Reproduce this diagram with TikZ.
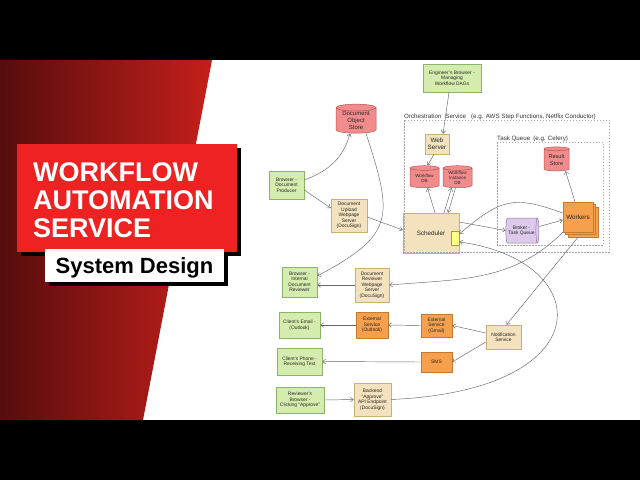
\documentclass[tikz,border=0pt]{standalone}
\usepackage{fontspec}
\setmainfont{Liberation Sans}
\newfontfamily\titlefont{Liberation Sans}
\usetikzlibrary{shapes.geometric,arrows.meta,shadows}

\definecolor{usergreen}{HTML}{D4EDAE}
\definecolor{usergreenline}{HTML}{8CB369}
\definecolor{srvtan}{HTML}{F3E2BD}
\definecolor{srvtanline}{HTML}{C9B078}
\definecolor{storepink}{HTML}{F28C8C}
\definecolor{storepinkline}{HTML}{B85450}
\definecolor{extorange}{HTML}{F6A04D}
\definecolor{extorangeline}{HTML}{C57A2E}
\definecolor{queuepurple}{HTML}{DDC9EC}
\definecolor{queuepurpleline}{HTML}{9673A6}
\definecolor{flagyellow}{HTML}{FFFF88}
\definecolor{flagyellowline}{HTML}{A89A3A}
\definecolor{bannerred}{HTML}{EE2222}
\definecolor{fadedark}{HTML}{560D0D}
\definecolor{fadered}{HTML}{C51F1A}
\definecolor{linkgray}{HTML}{666666}

\tikzset{
  box/.style={draw, line width=0.5pt, align=center, inner sep=0pt, text=black!85,
    font=\fontsize{4.9}{5.5}\selectfont},
  user/.style={box, fill=usergreen, draw=usergreenline},
  srv/.style={box, fill=srvtan, draw=srvtanline},
  ext/.style={box, fill=extorange, draw=extorangeline},
  store/.style={box, cylinder, shape border rotate=90, aspect=0.25,
    fill=storepink, draw=storepinkline},
  midtext/.style={font=\fontsize{6.3}{7}\selectfont},
  conn/.style={->, draw=linkgray, line width=0.45pt},
  region/.style={draw=gray!70, dash pattern=on 1.5pt off 1.5pt, line width=0.5pt},
  regionlabel/.style={anchor=base west, inner sep=0pt, text=black!80,
    font=\fontsize{6.2}{7}\selectfont},
  bigtitle/.style={anchor=base west, inner sep=0pt, text=white,
    font=\titlefont\bfseries\fontsize{27}{28}\selectfont},
}

\begin{document}
\begin{tikzpicture}[x=1pt, y=-1pt, >={Straight Barb[length=3pt,width=4.5pt]}]
  % Backdrop and banner
  \fill[black] (0,0) rectangle (640,480);
  \fill[white] (0,60) rectangle (640,420);
  \shade[left color=fadedark, right color=fadered]
    (0,60) -- (212,60) -- (143,420) -- (0,420) -- cycle;
  \fill[black] (21,148) rectangle (241,256);
  \fill[bannerred] (17,144) rectangle (237,252);
  \fill[black] (49,253) rectangle (228,286);
  \fill[white] (45,249) rectangle (224,282);

  \node (title1) [bigtitle] at (33,181) {WORKFLOW};
  \node (title2) [bigtitle] at (33,209) {AUTOMATION};
  \node (title3) [bigtitle] at (33,237) {SERVICE};
  \node (subtitle) [anchor=base, inner sep=0pt,
    font=\titlefont\bfseries\fontsize{22}{24}\selectfont] at (134.5,273) {System Design};

  % Users
  \node (eng) [user, minimum width=58pt, minimum height=28pt] at (452,78)
    {Engineer's Browser -\\Managing\\Workflow DAGs};
  \node (prod) [user, minimum width=35pt, minimum height=28pt] at (286.5,185)
    {Browser -\\Document\\Producer};
  \node (revbr) [user, minimum width=35pt, minimum height=30pt] at (299.5,282)
    {Browser -\\Internal\\Document\\Reviewer};
  \node (email) [user, minimum width=41pt, minimum height=26pt] at (299.5,325)
    {Client's Email -\\(Outlook)};
  \node (phone) [user, minimum width=45pt, minimum height=27pt] at (299.5,361.5)
    {Client's Phone -\\Receiving Text};
  \node (apprbr) [user, minimum width=48pt, minimum height=26pt] at (300,400)
    {Reviewer's\\Browser -\\Clicking ``Approve''};

  % Servers
  \node (upload) [srv, minimum width=36pt, minimum height=33pt] at (349,215.5)
    {Document\\Upload\\Webpage\\Server\\(DocuSign)};
  \node (revsrv) [srv, minimum width=34pt, minimum height=34pt] at (372,285)
    {Document\\Reviewer\\Webpage\\Server\\(DocuSign)};
  \node (backend) [srv, minimum width=37pt, minimum height=33pt] at (372.5,399.5)
    {Backend\\``Approve''\\API Endpoint\\(DocuSign)};
  \node (notif) [srv, minimum width=35pt, minimum height=24pt] at (503.5,337)
    {Notification\\Service};
  \node (web) [srv, midtext, minimum width=24pt, minimum height=20pt] at (437,144)
    {Web\\Server};
  \node (sched) [srv, midtext, minimum width=56pt, minimum height=40pt] at (431,233)
    {Scheduler};
  \node (trigger) [draw=flagyellowline, fill=flagyellow, line width=0.5pt,
    minimum width=8pt, minimum height=14pt, inner sep=0pt] at (455,238) {};

  % External services
  \node (extout) [ext, minimum width=32pt, minimum height=26pt] at (372,325)
    {External\\Service\\(Outlook)};
  \node (extgm) [ext, minimum width=31pt, minimum height=23pt] at (436.5,325.5)
    {External\\Service\\(Gmail)};
  \node (sms) [ext, minimum width=31pt, minimum height=20pt] at (436.5,362) {SMS};
  \node (workers) [ext, midtext, double copy shadow={shadow xshift=2.5pt, shadow yshift=-2.5pt},
    minimum width=30pt, minimum height=30pt] at (578,217) {Workers};

  % Stores
  \node (dos) [store, font=\fontsize{6}{6.6}\selectfont, minimum width=40pt, minimum height=29pt]
    at (356,120.5) {Document\\Object\\Store};
  \node (wfdb) [store, font=\fontsize{4.5}{5}\selectfont, minimum width=29pt, minimum height=22pt]
    at (424.5,178) {Workflow\\DB};
  \node (widb) [store, font=\fontsize{4.5}{5}\selectfont, minimum width=29pt, minimum height=22pt]
    at (457.5,178) {Workflow\\Instance\\DB};
  \node (result) [store, font=\fontsize{5.5}{6.2}\selectfont, minimum width=25pt, minimum height=24pt]
    at (556.5,160) {Result\\Store};
  \node (broker) [box, cylinder, aspect=0.3, fill=queuepurple, draw=queuepurpleline,
    minimum width=25pt, minimum height=33pt] at (521.5,230.5) {Broker -\\Task Queue};

  % Dashed groups
  \draw[region] (404,120) rectangle (609,252);
  \node (orchlabel) [regionlabel] at (404,118.5)
    {Orchestration\hspace{4pt}Service\hspace{5pt}(e.g. AWS Step Functions, Netflix Conductor)};
  \draw[region] (497,142) rectangle (603,245);
  \node (tqlabel) [regionlabel] at (497,140) {Task Queue\hspace{3pt}(e.g. Celery)};

  % Connectors
  \draw[conn] ([xshift=-3pt]eng.south) -- ([xshift=6pt]web.north);
  \draw[conn] ([xshift=-3pt]web.south) -- ([xshift=3pt]wfdb.north);
  \draw[conn] ([xshift=4pt]sched.north) -- ([xshift=3pt]wfdb.south);
  \draw[conn] ([xshift=13pt]sched.north) -- ([xshift=-6pt]widb.south);
  \draw[conn] ([xshift=-2pt]widb.south) -- ([xshift=17pt]sched.north);
  \draw[conn] ([yshift=11pt]sched.east) -- (broker.west);
  \draw[conn] ([yshift=4pt]broker.east) -- ([yshift=-3pt]workers.west);
  \draw[conn] ([xshift=-3pt]workers.north) -- ([xshift=9pt]result.south);
  \draw[conn] ([yshift=4pt]workers.west) to[out=160, in=40, looseness=1.3] ([yshift=4pt]trigger.east);
  \draw[conn] (workers.south west) to[out=-135, in=5] (revsrv.east);
  \draw[conn] ([yshift=-5pt]workers.south) -- ([xshift=3pt]notif.north);
  \draw[conn] ([yshift=4pt]notif.west) -- (extgm.east);
  \draw[conn] ([yshift=-5pt]notif.west) -- (sms.east);
  \draw[conn] (extgm.west) -- (extout.east);
  \draw[conn] (extout.west) -- (email.east);
  \draw[conn] (sms.west) -- (phone.east);
  \draw[conn] (apprbr.east) -- (backend.west);
  \draw[conn] (backend.east) .. controls (605,390) and (595,260) .. ([yshift=-4pt]trigger.east);
  \draw[conn] ([yshift=5pt]prod.east) to[out=20, in=-105] ([xshift=-6pt]dos.south);
  \draw[conn] ([yshift=-5pt]prod.east) -- ([yshift=7.5pt]upload.west);
  \draw[conn] ([yshift=-1.5pt]upload.east) -- ([yshift=3pt]sched.west);
  \draw[conn] ([xshift=10pt]dos.south) to[out=-72, in=28, looseness=1.5] ([yshift=6pt]revbr.east);
  \draw[conn] (revsrv.west) -- ([yshift=-3pt]revbr.east);
\end{tikzpicture}
\end{document}
